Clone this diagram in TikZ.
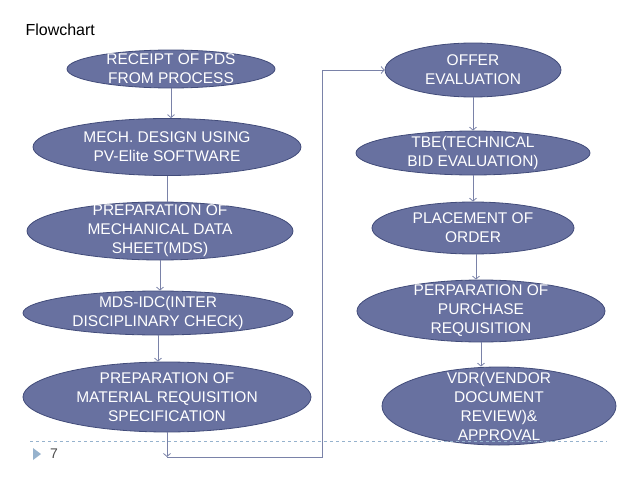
\documentclass[tikz,border=0pt]{standalone}
\usepackage{fontspec}
\setmainfont{Liberation Sans}
\usetikzlibrary{shapes.geometric,arrows.meta}
\definecolor{stagefill}{RGB}{104,113,160}
\definecolor{stageedge}{RGB}{66,76,122}
\definecolor{linkgray}{RGB}{122,130,168}
\definecolor{footblue}{RGB}{150,178,205}
\tikzset{
  stage/.style={ellipse,draw=stageedge,fill=stagefill,line width=.8pt,inner sep=0pt},
  stagetext/.style={font=\fontsize{15.5}{19}\selectfont,text=white,align=center},
  flow/.style={draw=linkgray,line width=.8pt,-{Straight Barb[length=3pt,width=7pt]}},
  link/.style={draw=linkgray,line width=.8pt}
}
\begin{document}
\begin{tikzpicture}[x=1pt,y=-1pt]
\useasboundingbox (0,0) rectangle (638,479);
\node[anchor=base west,font=\fontsize{16}{19}\selectfont] (title) at (22,35) {Flowchart};
% left column
\node[stage,minimum width=208pt,minimum height=38pt,label={[stagetext]center:{RECEIPT OF PDS\\FROM PROCESS}}] (pds) at (171,69) {};
\node[stage,minimum width=268pt,minimum height=57pt,label={[stagetext]center:{MECH. DESIGN USING\\PV-Elite SOFTWARE}}] (mech) at (167,147) {};
\node[stage,minimum width=266pt,minimum height=58pt,label={[stagetext]center:{PREPARATION OF\\MECHANICAL DATA\\SHEET(MDS)}}] (mds) at (160,231) {};
\node[stage,minimum width=270pt,minimum height=44pt,label={[stagetext]center:{MDS-IDC(INTER\\DISCIPLINARY CHECK)}}] (idc) at (158,313) {};
\node[stage,minimum width=288pt,minimum height=70pt,label={[stagetext]center:{PREPARATION OF\\MATERIAL REQUISITION\\SPECIFICATION}}] (mrs) at (167,397) {};
% right column
\node[stage,minimum width=176pt,minimum height=54pt,label={[stagetext]center:{OFFER\\EVALUATION}}] (offer) at (473,70) {};
\node[stage,minimum width=234pt,minimum height=44pt,label={[stagetext]center:{TBE(TECHNICAL\\BID EVALUATION)}}] (tbe) at (473,153) {};
\node[stage,minimum width=202pt,minimum height=52pt,label={[stagetext]center:{PLACEMENT OF\\ORDER}}] (order) at (473,228) {};
\node[stage,minimum width=248pt,minimum height=62pt,label={[stagetext]center:{PERPARATION OF\\PURCHASE\\REQUISITION}}] (pr) at (481,311) {};
\node[stage,minimum width=234pt,minimum height=78pt,label={[stagetext]center:{VDR(VENDOR\\DOCUMENT\\REVIEW)\&\\APPROVAL}}] (vdr) at (499,406) {};
% footer
\draw[footblue,dashed,line width=.6pt] (30,441) -- (607,441);
\fill[footblue] (33,448) -- (41,454) -- (33,460) -- cycle;
\node[font=\fontsize{14}{16}\selectfont,text=black!70] (page) at (54,454) {7};
% connectors
\coordinate (turn) at (167,457);
\coordinate (riser) at (322,0);
\draw[flow] (pds.south) -- (pds.south |- mech.north);
\draw[link] (mech.south) -- (mech.south |- mds.north);
\draw[flow] (mds.south) -- (mds.south |- idc.north);
\draw[flow] (idc.south) -- (idc.south |- mrs.north);
\draw[flow] (mrs.south) -- (turn);
\draw[flow] (turn) -- (turn -| riser) -- (riser |- offer.west) -- (offer.west);
\draw[flow] (offer.south) -- (offer.south |- tbe.north);
\draw[flow] (tbe.south) -- (tbe.south |- order.north);
\draw[flow] ([xshift=3pt]order.south) -- ([xshift=3pt]order.south |- pr.north);
\draw[flow] (pr.south) -- (pr.south |- vdr.north);
\end{tikzpicture}
\end{document}
